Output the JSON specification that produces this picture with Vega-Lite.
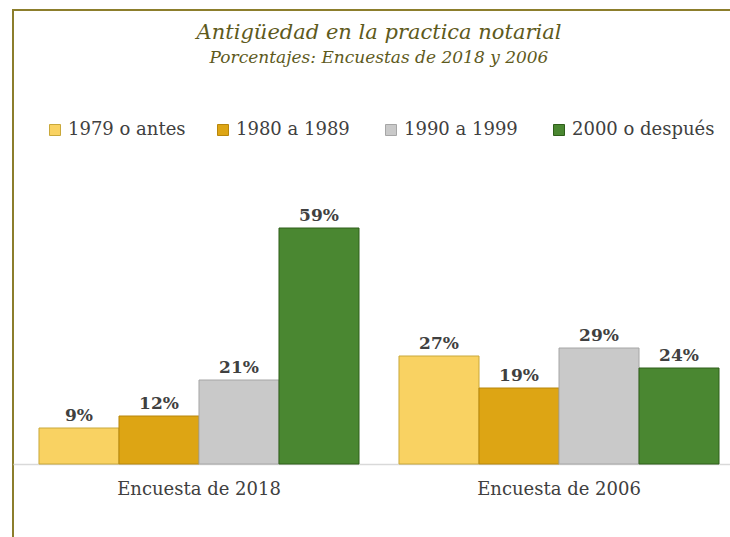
{
  "$schema": "https://vega.github.io/schema/vega-lite/v6.json",
  "width": 732,
  "height": 540,
  "autosize": {"type": "none"},
  "padding": {"left": 13, "top": 10, "right": 0, "bottom": 0},
  "background": "white",
  "config": {
    "view": {"stroke": "#8C7E2C", "strokeWidth": 2},
    "font": "DejaVu Serif"
  },
  "title": {
    "text": "Antigüedad en la practica notarial",
    "subtitle": "Porcentajes: Encuestas de 2018 y 2006",
    "anchor": "middle",
    "frame": "group",
    "orient": "top",
    "offset": -56,
    "font": "DejaVu Serif",
    "fontStyle": "italic",
    "fontWeight": "normal",
    "fontSize": 21,
    "color": "#5E5A1C",
    "subtitleFont": "DejaVu Serif",
    "subtitleFontStyle": "italic",
    "subtitleFontSize": 17,
    "subtitleColor": "#5E5A1C",
    "subtitlePadding": 7
  },
  "data": {
    "values": [
      {"encuesta": "Encuesta de 2018", "periodo": "1979 o antes", "pct": 0.09},
      {"encuesta": "Encuesta de 2018", "periodo": "1980 a 1989", "pct": 0.12},
      {"encuesta": "Encuesta de 2018", "periodo": "1990 a 1999", "pct": 0.21},
      {"encuesta": "Encuesta de 2018", "periodo": "2000 o después", "pct": 0.59},
      {"encuesta": "Encuesta de 2006", "periodo": "1979 o antes", "pct": 0.27},
      {"encuesta": "Encuesta de 2006", "periodo": "1980 a 1989", "pct": 0.19},
      {"encuesta": "Encuesta de 2006", "periodo": "1990 a 1999", "pct": 0.29},
      {"encuesta": "Encuesta de 2006", "periodo": "2000 o después", "pct": 0.24}
    ]
  },
  "encoding": {
    "x": {
      "field": "encuesta",
      "type": "nominal",
      "sort": ["Encuesta de 2018", "Encuesta de 2006"],
      "scale": {"paddingInner": 0.1111, "paddingOuter": 0.0722},
      "axis": {
        "orient": "bottom",
        "offset": -86,
        "domainColor": "#D9D9D9",
        "domainWidth": 1.5,
        "ticks": false,
        "grid": false,
        "labelAngle": 0,
        "labelPadding": 16,
        "labelFontSize": 18,
        "labelColor": "#404040",
        "labelFont": "DejaVu Serif",
        "title": null
      }
    },
    "xOffset": {
      "field": "periodo",
      "type": "nominal",
      "sort": ["1979 o antes", "1980 a 1989", "1990 a 1999", "2000 o después"],
      "scale": {"paddingInner": 0, "paddingOuter": 0}
    },
    "y": {
      "field": "pct",
      "type": "quantitative",
      "scale": {"domain": [-0.215, 1.135], "nice": false, "zero": false},
      "axis": null
    }
  },
  "layer": [
    {
      "mark": {"type": "bar", "strokeWidth": 1},
      "encoding": {
        "y2": {"datum": 0},
        "fill": {
          "field": "periodo",
          "type": "nominal",
          "scale": {
            "domain": ["1979 o antes", "1980 a 1989", "1990 a 1999", "2000 o después"],
            "range": ["#F9D262", "#DDA514", "#C9C9C9", "#4A8731"]
          },
          "legend": {
            "orient": "none",
            "legendX": 33,
            "legendY": 111,
            "direction": "horizontal",
            "columns": 4,
            "gridAlign": "all",
            "columnPadding": 3,
            "title": null,
            "symbolType": "square",
            "symbolSize": 121,
            "symbolStrokeWidth": 1,
            "labelFontSize": 18,
            "labelFont": "DejaVu Serif",
            "labelColor": "#404040",
            "labelOffset": 4,
            "padding": 0
          }
        },
        "stroke": {
          "field": "periodo",
          "type": "nominal",
          "scale": {
            "domain": ["1979 o antes", "1980 a 1989", "1990 a 1999", "2000 o después"],
            "range": ["#C9A83A", "#B8860B", "#A6A6A6", "#2F5F1A"]
          }
        }
      }
    },
    {
      "mark": {
        "type": "text",
        "baseline": "alphabetic",
        "dy": -7,
        "fontWeight": "bold",
        "fontSize": 17,
        "font": "DejaVu Serif",
        "color": "#404040"
      },
      "encoding": {
        "text": {"field": "pct", "type": "quantitative", "format": ".0%"}
      }
    }
  ]
}
